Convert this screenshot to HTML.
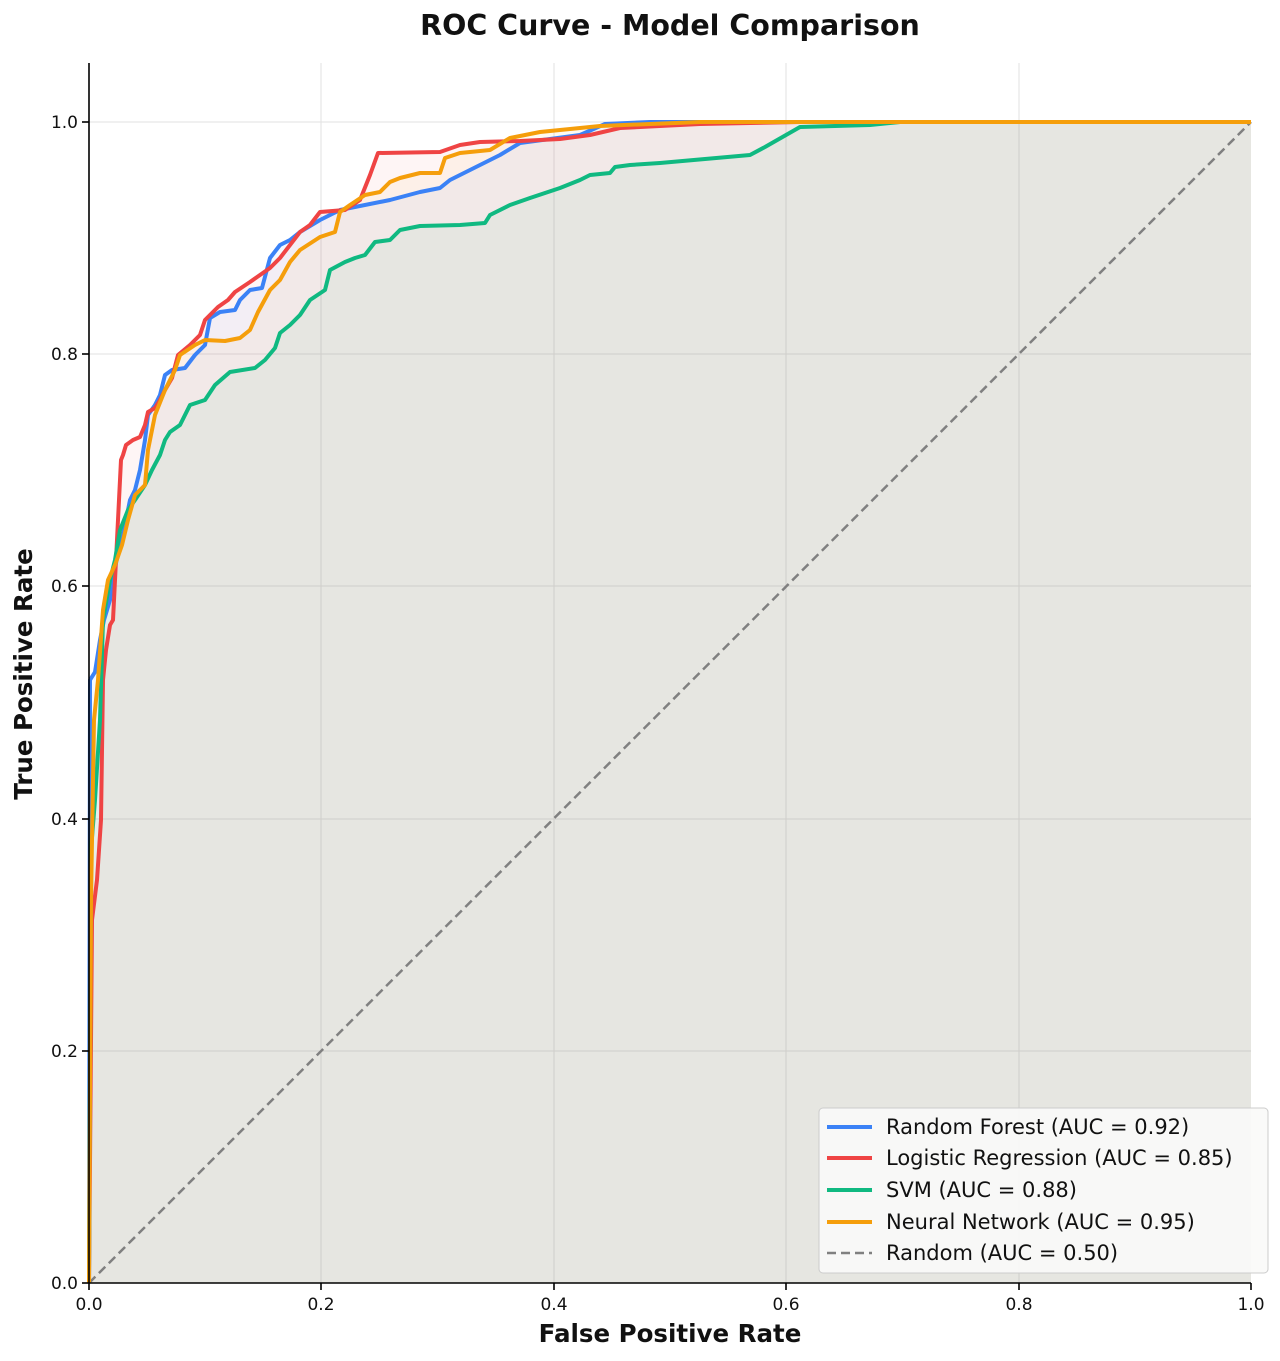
<!DOCTYPE html>
<html><head><meta charset="utf-8"><style>body{margin:0;background:#fff}svg{display:block}text{font-family:"DejaVu Sans","Liberation Sans",sans-serif}</style></head><body>
<svg width="1280" height="1361" viewBox="0 0 1280 1361" xmlns="http://www.w3.org/2000/svg">
<rect width="1280" height="1361" fill="#fff"/>
<text x="670" y="35" text-anchor="middle" font-size="28.5" font-weight="bold" fill="#111">ROC Curve - Model Comparison</text>
<g stroke="#e2e2e2" stroke-width="1">
<line x1="321" y1="63" x2="321" y2="1283"/><line x1="554" y1="63" x2="554" y2="1283"/><line x1="786" y1="63" x2="786" y2="1283"/><line x1="1019" y1="63" x2="1019" y2="1283"/>
<line x1="89" y1="122" x2="1251" y2="122"/><line x1="89" y1="354" x2="1251" y2="354"/><line x1="89" y1="586" x2="1251" y2="586"/><line x1="89" y1="819" x2="1251" y2="819"/><line x1="89" y1="1051" x2="1251" y2="1051"/>
</g>
<g id="fills" fill-opacity="0.055">
<polygon fill="#3b82f6" points="89,1283 90,680 95,672 100,640 104,620 110,600 113,575 118,555 123,535 130,500 135,490 140,470 145,440 148,415 155,405 160,395 165,375 172,370 185,368 195,355 205,345 210,318 220,312 235,310 240,300 250,290 262,288 270,258 280,245 290,240 300,232 320,220 340,210 390,200 420,192 440,188 450,180 470,170 500,155 520,143 580,135 605,124 650,122 1251,122 1251,1283"/>
<polygon fill="#ef4444" points="89,1283 92,920 97,880 101,820 103,680 106,650 110,625 113,620 116,560 118,520 121,460 123,455 126,445 133,440 140,437 145,425 148,412 155,408 160,400 165,390 172,378 178,355 190,345 200,335 205,320 210,315 218,307 228,300 235,292 250,282 270,268 280,258 290,245 300,232 310,225 320,212 345,210 360,200 370,175 378,153 440,152 460,145 480,142 520,141 560,139 590,135 620,128 700,124 800,122 1251,122 1251,1283"/>
<polygon fill="#10b981" points="89,1283 91,850 95,800 100,720 103,620 110,580 115,560 120,530 128,510 135,500 145,485 152,470 160,455 165,440 170,432 180,425 190,405 205,400 215,385 230,372 255,368 265,360 275,348 280,333 290,325 300,315 310,300 325,290 330,270 345,262 355,258 365,255 375,242 390,240 400,230 420,226 460,225 485,223 490,215 510,205 530,198 545,193 560,188 580,180 590,175 610,173 615,167 630,165 660,163 750,155 765,147 800,127 870,125 900,122 1251,122 1251,1283"/>
<polygon fill="#f59e0b" points="89,1283 91,900 94,720 98,680 103,610 108,580 115,565 122,545 128,520 135,495 145,485 148,450 155,415 165,390 175,370 180,355 195,345 205,340 225,341 240,338 250,330 258,312 270,290 280,280 290,262 300,250 320,237 335,232 340,212 350,205 365,195 380,192 390,182 400,178 420,173 440,173 445,158 460,153 490,150 510,138 540,132 600,126 700,122 1251,122 1251,1283"/>
</g>
<line x1="89" y1="1283" x2="1251" y2="122" stroke="#808080" stroke-width="2.5" stroke-dasharray="9,5"/>
<g fill="none" stroke-width="4" stroke-linejoin="round">
<polyline stroke="#3b82f6" points="89,1283 90,680 95,672 100,640 104,620 110,600 113,575 118,555 123,535 130,500 135,490 140,470 145,440 148,415 155,405 160,395 165,375 172,370 185,368 195,355 205,345 210,318 220,312 235,310 240,300 250,290 262,288 270,258 280,245 290,240 300,232 320,220 340,210 390,200 420,192 440,188 450,180 470,170 500,155 520,143 580,135 605,124 650,122 1251,122"/>
<polyline stroke="#ef4444" points="89,1283 92,920 97,880 101,820 103,680 106,650 110,625 113,620 116,560 118,520 121,460 123,455 126,445 133,440 140,437 145,425 148,412 155,408 160,400 165,390 172,378 178,355 190,345 200,335 205,320 210,315 218,307 228,300 235,292 250,282 270,268 280,258 290,245 300,232 310,225 320,212 345,210 360,200 370,175 378,153 440,152 460,145 480,142 520,141 560,139 590,135 620,128 700,124 800,122 1251,122"/>
<polyline stroke="#10b981" points="89,1283 91,850 95,800 100,720 103,620 110,580 115,560 120,530 128,510 135,500 145,485 152,470 160,455 165,440 170,432 180,425 190,405 205,400 215,385 230,372 255,368 265,360 275,348 280,333 290,325 300,315 310,300 325,290 330,270 345,262 355,258 365,255 375,242 390,240 400,230 420,226 460,225 485,223 490,215 510,205 530,198 545,193 560,188 580,180 590,175 610,173 615,167 630,165 660,163 750,155 765,147 800,127 870,125 900,122 1251,122"/>
<polyline stroke="#f59e0b" points="89,1283 91,900 94,720 98,680 103,610 108,580 115,565 122,545 128,520 135,495 145,485 148,450 155,415 165,390 175,370 180,355 195,345 205,340 225,341 240,338 250,330 258,312 270,290 280,280 290,262 300,250 320,237 335,232 340,212 350,205 365,195 380,192 390,182 400,178 420,173 440,173 445,158 460,153 490,150 510,138 540,132 600,126 700,122 1251,122"/>
</g>
<g stroke="#000" stroke-width="1.6">
<line x1="89" y1="63" x2="89" y2="1283"/><line x1="89" y1="1283" x2="1251" y2="1283"/>
<line x1="89" y1="1283" x2="89" y2="1290"/><line x1="321" y1="1283" x2="321" y2="1290"/><line x1="554" y1="1283" x2="554" y2="1290"/><line x1="786" y1="1283" x2="786" y2="1290"/><line x1="1019" y1="1283" x2="1019" y2="1290"/><line x1="1251" y1="1283" x2="1251" y2="1290"/>
<line x1="82" y1="122" x2="89" y2="122"/><line x1="82" y1="354" x2="89" y2="354"/><line x1="82" y1="586" x2="89" y2="586"/><line x1="82" y1="819" x2="89" y2="819"/><line x1="82" y1="1051" x2="89" y2="1051"/><line x1="82" y1="1283" x2="89" y2="1283"/>
</g>
<g font-size="17" fill="#111" text-anchor="middle">
<text x="89" y="1310">0.0</text><text x="321" y="1310">0.2</text><text x="554" y="1310">0.4</text><text x="786" y="1310">0.6</text><text x="1019" y="1310">0.8</text><text x="1251" y="1310">1.0</text>
</g>
<g font-size="17" fill="#111" text-anchor="end">
<text x="78" y="128">1.0</text><text x="78" y="360">0.8</text><text x="78" y="592">0.6</text><text x="78" y="825">0.4</text><text x="78" y="1057">0.2</text><text x="78" y="1289">0.0</text>
</g>
<text x="670" y="1342" text-anchor="middle" font-size="24.5" font-weight="bold" fill="#111">False Positive Rate</text>
<text transform="translate(32,674) rotate(-90)" text-anchor="middle" font-size="24.5" font-weight="bold" fill="#111">True Positive Rate</text>
<rect x="819" y="1108" width="449" height="165" rx="4" fill="#fafaf8" fill-opacity="0.92" stroke="#ccc"/>
<g stroke-width="4">
<line x1="827" y1="1127" x2="872" y2="1127" stroke="#3b82f6"/>
<line x1="827" y1="1158" x2="872" y2="1158" stroke="#ef4444"/>
<line x1="827" y1="1190" x2="872" y2="1190" stroke="#10b981"/>
<line x1="827" y1="1222" x2="872" y2="1222" stroke="#f59e0b"/>
<line x1="827" y1="1253" x2="872" y2="1253" stroke="#808080" stroke-width="2.5" stroke-dasharray="9,5"/>
</g>
<g font-size="21" fill="#111">
<text x="886" y="1134">Random Forest (AUC = 0.92)</text>
<text x="886" y="1165">Logistic Regression (AUC = 0.85)</text>
<text x="886" y="1197">SVM (AUC = 0.88)</text>
<text x="886" y="1229">Neural Network (AUC = 0.95)</text>
<text x="886" y="1260">Random (AUC = 0.50)</text>
</g>
</svg>
</body></html>
